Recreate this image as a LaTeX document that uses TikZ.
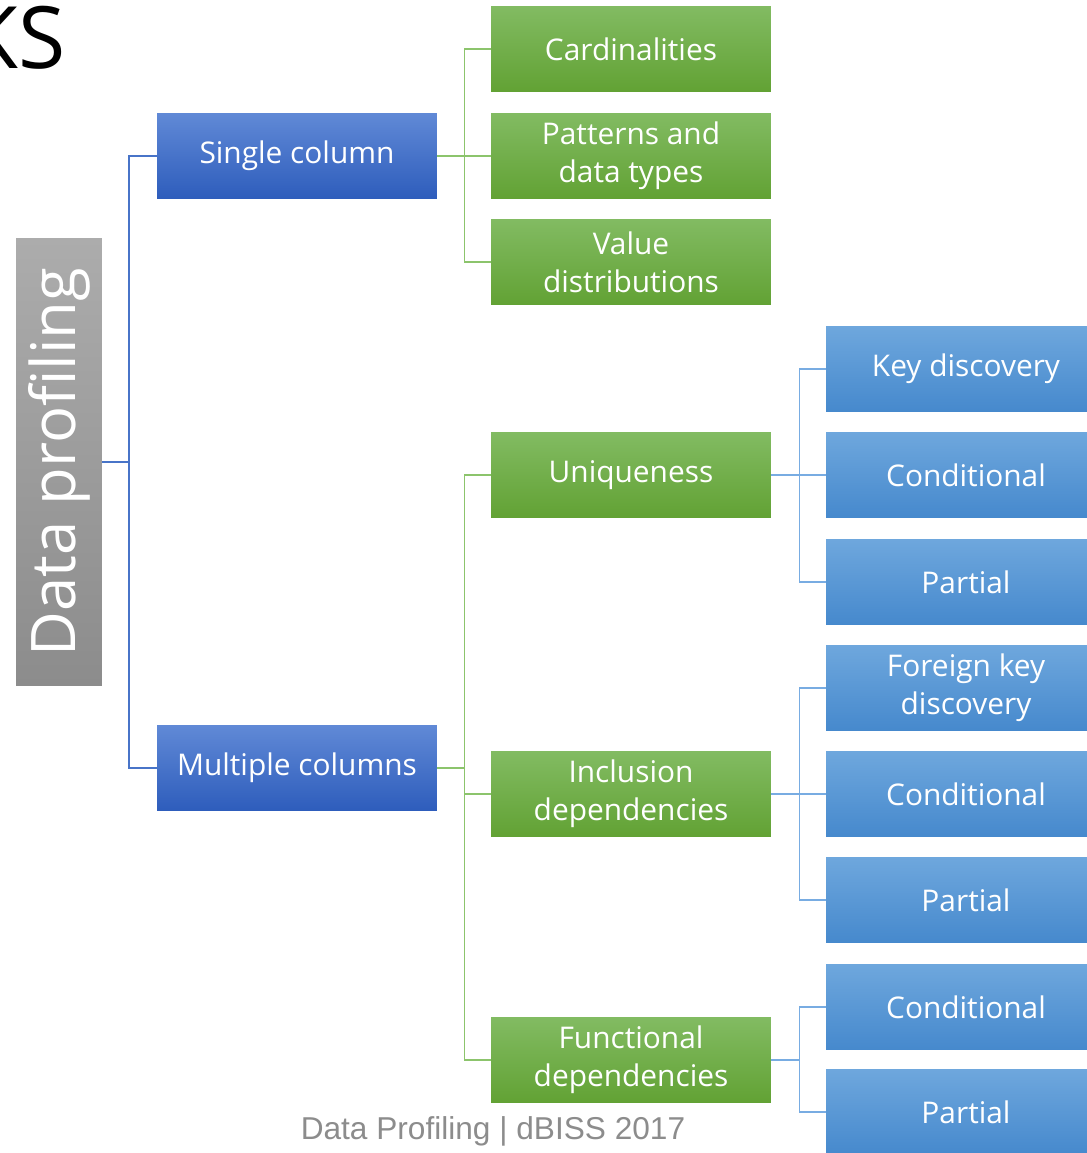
\documentclass[tikz,border=0pt]{standalone}
\usepackage{fontspec}
\setmainfont{Open Sans}
\newfontfamily\footfont{Liberation Sans}
\usetikzlibrary{positioning,calc}
\definecolor{deeptop}{RGB}{96,137,214}
\definecolor{deepbot}{RGB}{46,93,188}
\definecolor{skytop}{RGB}{110,167,221}
\definecolor{skybot}{RGB}{70,137,205}
\definecolor{leaftop}{RGB}{130,187,98}
\definecolor{leafbot}{RGB}{98,162,52}
\definecolor{greytop}{RGB}{172,172,172}
\definecolor{greybot}{RGB}{140,140,140}
\definecolor{rootln}{RGB}{72,116,200}
\definecolor{kindln}{RGB}{140,196,108}
\definecolor{subln}{RGB}{120,172,226}
\definecolor{footgray}{RGB}{140,140,140}
\begin{document}
\begin{tikzpicture}[x=0.02cm,y=-0.02cm,
  box/.style={minimum width=5.6cm,minimum height=1.7cm,inner sep=0pt,align=center,
    text=white,font=\fontsize{17}{21.5}\selectfont},
  colbox/.style={box,top color=deeptop,bottom color=deepbot},
  kindbox/.style={box,top color=leaftop,bottom color=leafbot},
  subbox/.style={box,top color=skytop,bottom color=skybot},
  rootln/.style={draw=rootln,line width=0.9pt},
  kindln/.style={draw=kindln,line width=0.9pt},
  subln/.style={draw=subln,line width=0.9pt}]
\useasboundingbox (0,0) rectangle (1087,1153);
\node[anchor=base east,font=\fontsize{49}{49}\selectfont,inner sep=0pt] (title) at (66,68) {KS};
% root
\node[minimum width=1.72cm,minimum height=8.96cm,inner sep=0pt,top color=greytop,bottom color=greybot,
  text=white,font=\fontsize{35}{35}\selectfont] (dp) at (59,462) {\rotatebox{90}{Data profiling}};
% columns
\node[colbox] (single) at (297,156) {Single column};
\node[colbox] (multi)  at (297,768) {Multiple columns};
% single column tasks
\node[kindbox] (card) at (631,49)  {Cardinalities};
\node[kindbox] (patt) at (631,156) {Patterns and\\data types};
\node[kindbox] (dist) at (631,262) {Value\\distributions};
% multiple column tasks
\node[kindbox] (uniq) at (631,475)  {Uniqueness};
\node[kindbox] (incl) at (631,794)  {Inclusion\\dependencies};
\node[kindbox] (func) at (631,1060) {Functional\\dependencies};
% sub tasks
\node[subbox] (ukey)  at (966,369)  {Key discovery};
\node[subbox] (ucond) at (966,475)  {Conditional};
\node[subbox] (upart) at (966,582)  {Partial};
\node[subbox] (ikey)  at (966,688)  {Foreign key\\discovery};
\node[subbox] (icond) at (966,794)  {Conditional};
\node[subbox] (ipart) at (966,900)  {Partial};
\node[subbox] (fcond) at (966,1007) {Conditional};
\node[subbox] (fpart) at (966,1112) {Partial};
% connectors
\coordinate (rj) at (129,462);
\draw[rootln] (dp.east) -- (rj);
\draw[rootln] (single.west) -| (rj) |- (multi.west);
\foreach \k in {card,patt,dist} \draw[kindln] (single.east) -- ++(27,0) |- (\k.west);
\foreach \k in {uniq,incl,func} \draw[kindln] (multi.east) -- ++(27,0) |- (\k.west);
\foreach \s in {ukey,ucond,upart} \draw[subln] (uniq.east) -- ++(28,0) |- (\s.west);
\foreach \s in {ikey,icond,ipart} \draw[subln] (incl.east) -- ++(28,0) |- (\s.west);
\foreach \s in {fcond,fpart} \draw[subln] (func.east) -- ++(28,0) |- (\s.west);
% footer
\node[anchor=base,font=\footfont\fontsize{18}{20}\selectfont,text=footgray] (foot) at (493,1139)
  {Data Profiling | dBISS 2017};
\end{tikzpicture}
\end{document}
